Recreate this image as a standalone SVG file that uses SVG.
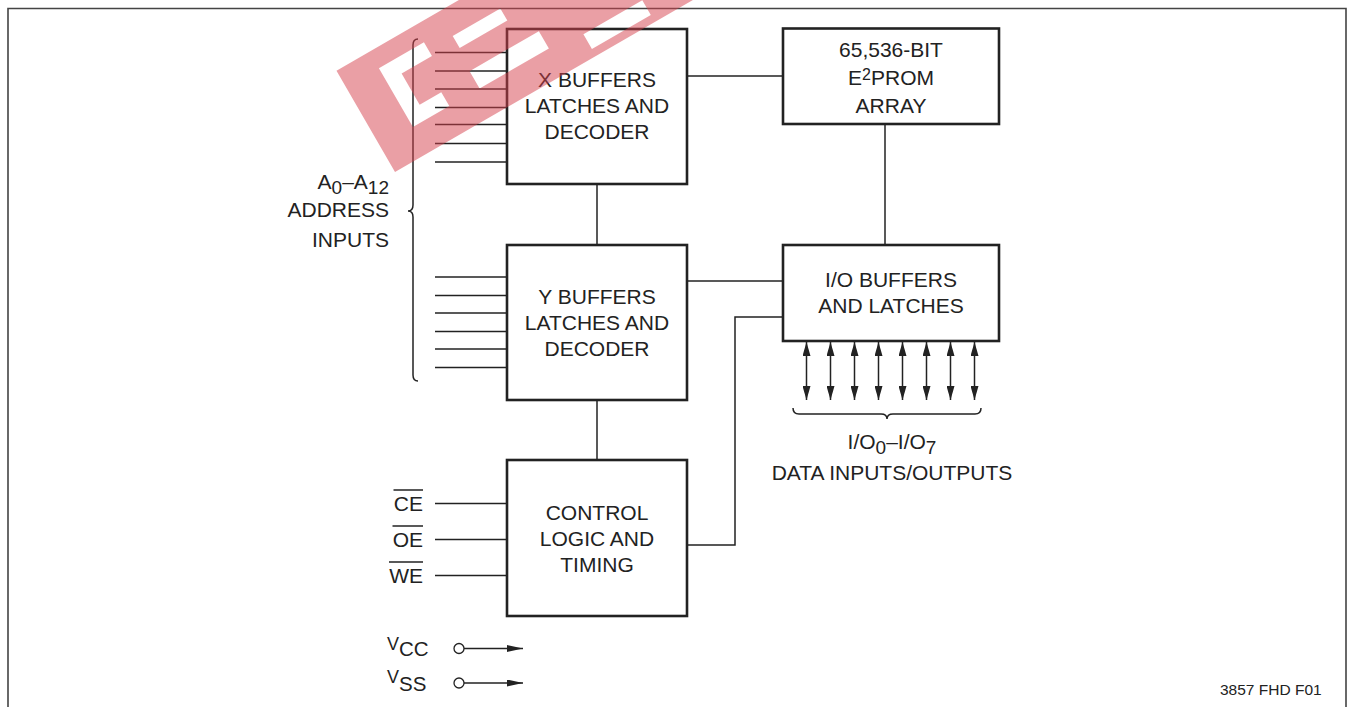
<svg xmlns="http://www.w3.org/2000/svg" width="1350" height="707" viewBox="0 0 1350 707">
<style>
  .box { fill: #fff; stroke: #222; stroke-width: 2.6; }
  .ln { fill: none; stroke: #222; stroke-width: 1.5; }
  .frame { fill: none; stroke: #444; stroke-width: 1.6; }
  .t { font-family: "Liberation Sans", Arial, sans-serif; font-size: 21px; fill: #222; }
  .c { text-anchor: middle; }
  .e { text-anchor: end; }
</style>
<defs>
  <marker id="ah" markerUnits="userSpaceOnUse" markerWidth="14" markerHeight="8" refX="14" refY="4" orient="auto-start-reverse">
    <path d="M0,0 L14,4 L0,8 z" fill="#222"/>
  </marker>
  <marker id="ah2" markerUnits="userSpaceOnUse" markerWidth="16" markerHeight="7" refX="16" refY="3.5" orient="auto">
    <path d="M0,0 L16,3.5 L0,7 z" fill="#222"/>
  </marker>
</defs>
<rect width="1350" height="707" fill="#fff"/>
<path class="frame" d="M8,720 L8,8.5 L1346,8.5 L1346,720"/>

<g id="connectors">
  <line class="ln" x1="687" y1="76" x2="783" y2="76"/>
  <line class="ln" x1="885" y1="124" x2="885" y2="245"/>
  <line class="ln" x1="597" y1="184" x2="597" y2="245"/>
  <line class="ln" x1="597" y1="400" x2="597" y2="460"/>
  <line class="ln" x1="687" y1="281" x2="783" y2="281"/>
  <path class="ln" d="M687,545 L735,545 L735,317 L783,317"/>
  <g id="x-address-lines">
    <line class="ln" x1="435" y1="52.5" x2="507" y2="52.5"/>
    <line class="ln" x1="435" y1="71" x2="507" y2="71"/>
    <line class="ln" x1="435" y1="89" x2="507" y2="89"/>
    <line class="ln" x1="435" y1="107.5" x2="507" y2="107.5"/>
    <line class="ln" x1="435" y1="124.5" x2="507" y2="124.5"/>
    <line class="ln" x1="435" y1="143.5" x2="507" y2="143.5"/>
    <line class="ln" x1="435" y1="162" x2="507" y2="162"/>
  </g>
  <g id="y-address-lines">
    <line class="ln" x1="435" y1="277" x2="507" y2="277"/>
    <line class="ln" x1="435" y1="295.5" x2="507" y2="295.5"/>
    <line class="ln" x1="435" y1="313" x2="507" y2="313"/>
    <line class="ln" x1="435" y1="331.5" x2="507" y2="331.5"/>
    <line class="ln" x1="435" y1="349" x2="507" y2="349"/>
    <line class="ln" x1="435" y1="367.5" x2="507" y2="367.5"/>
  </g>
  <g id="control-lines">
    <line class="ln" x1="435" y1="503.5" x2="507" y2="503.5"/>
    <line class="ln" x1="435" y1="539.5" x2="507" y2="539.5"/>
    <line class="ln" x1="435" y1="575.5" x2="507" y2="575.5"/>
  </g>
  <g id="data-arrows">
    <line class="ln" x1="806.5" y1="342" x2="806.5" y2="400" marker-start="url(#ah)" marker-end="url(#ah)"/>
    <line class="ln" x1="830.5" y1="342" x2="830.5" y2="400" marker-start="url(#ah)" marker-end="url(#ah)"/>
    <line class="ln" x1="854.5" y1="342" x2="854.5" y2="400" marker-start="url(#ah)" marker-end="url(#ah)"/>
    <line class="ln" x1="878.5" y1="342" x2="878.5" y2="400" marker-start="url(#ah)" marker-end="url(#ah)"/>
    <line class="ln" x1="902.5" y1="342" x2="902.5" y2="400" marker-start="url(#ah)" marker-end="url(#ah)"/>
    <line class="ln" x1="926.5" y1="342" x2="926.5" y2="400" marker-start="url(#ah)" marker-end="url(#ah)"/>
    <line class="ln" x1="950.5" y1="342" x2="950.5" y2="400" marker-start="url(#ah)" marker-end="url(#ah)"/>
    <line class="ln" x1="974.5" y1="342" x2="974.5" y2="400" marker-start="url(#ah)" marker-end="url(#ah)"/>
  </g>
  <path class="ln" d="M418,39 Q413,39 413,45 L413,205 Q413,211 408,211 Q413,211 413,217 L413,375 Q413,381 418,381"/>
  <path class="ln" d="M793,408 Q793,414 799,414 L881,414 Q887,414 887,419 Q887,414 893,414 L975,414 Q981,414 981,408"/>
  <g id="power">
    <circle cx="459" cy="648.5" r="5" fill="#fff" stroke="#222" stroke-width="1.3"/>
    <line class="ln" x1="464" y1="648.5" x2="523" y2="648.5" marker-end="url(#ah2)"/>
    <circle cx="459" cy="683" r="5" fill="#fff" stroke="#222" stroke-width="1.3"/>
    <line class="ln" x1="464" y1="683" x2="523" y2="683" marker-end="url(#ah2)"/>
  </g>
</g>

<g id="x-buffers">
  <rect class="box" x="507" y="29" width="180" height="155"/>
  <text class="t c" x="597" y="87">X BUFFERS</text>
  <text class="t c" x="597" y="113">LATCHES AND</text>
  <text class="t c" x="597" y="139">DECODER</text>
</g>
<g id="y-buffers">
  <rect class="box" x="507" y="245" width="180" height="155"/>
  <text class="t c" x="597" y="304">Y BUFFERS</text>
  <text class="t c" x="597" y="330">LATCHES AND</text>
  <text class="t c" x="597" y="356">DECODER</text>
</g>
<g id="control">
  <rect class="box" x="507" y="460" width="180" height="156"/>
  <text class="t c" x="597" y="520">CONTROL</text>
  <text class="t c" x="597" y="546">LOGIC AND</text>
  <text class="t c" x="597" y="572">TIMING</text>
</g>
<g id="eeprom-array">
  <rect class="box" x="783" y="28.5" width="216" height="95.5"/>
  <text class="t c" x="891" y="57">65,536-BIT</text>
  <text class="t c" x="891" y="84.5">E<tspan style="font-size:16px" dy="-5">2</tspan><tspan dy="5">PROM</tspan></text>
  <text class="t c" x="891" y="112.5">ARRAY</text>
</g>
<g id="io-buffers">
  <rect class="box" x="783" y="245" width="216" height="96"/>
  <text class="t c" x="891" y="287">I/O BUFFERS</text>
  <text class="t c" x="891" y="313">AND LATCHES</text>
</g>

<g id="labels">
  <text class="t e" x="389" y="188.5">A<tspan style="font-size:19px" dy="5">0</tspan><tspan dy="-5">–A</tspan><tspan style="font-size:19px" dy="5">12</tspan></text>
  <text class="t e" x="389" y="216.5">ADDRESS</text>
  <text class="t e" x="389" y="246.5">INPUTS</text>
  <text class="t c" x="892" y="449">I/O<tspan style="font-size:19px" dy="5">0</tspan><tspan dy="-5">–I/O</tspan><tspan style="font-size:19px" dy="5">7</tspan></text>
  <text class="t c" x="892" y="480">DATA INPUTS/OUTPUTS</text>
  <text class="t e" x="423" y="511">CE</text>
  <line class="ln" x1="393.5" y1="490" x2="423" y2="490"/>
  <text class="t e" x="423" y="547">OE</text>
  <line class="ln" x1="392.5" y1="526" x2="423" y2="526"/>
  <text class="t e" x="423" y="583">WE</text>
  <line class="ln" x1="389" y1="562" x2="423" y2="562"/>
  <text class="t" x="387" y="650" style="font-size:18px">V<tspan style="font-size:20.5px" dy="6">CC</tspan></text>
  <text class="t" x="387" y="683" style="font-size:18px">V<tspan style="font-size:20.5px" dy="8">SS</tspan></text>
  <text class="t" x="1220" y="695" style="font-size:15.5px">3857 FHD F01</text>
</g>

<g id="watermark" opacity="0.5" transform="translate(395,172) rotate(-30)">
  <path fill="#d6404c" fill-rule="evenodd" d="M0,0 L370,0 L370,-117 L0,-117 Z
    M38,-98 L90,-98 L90,-82 L55,-82 L55,-46 L80,-46 L80,-30 L38,-30 Z
    M118,-89 L173,-89 L173,-75 L118,-75 Z
    M115,-50 L195,-50 L195,-30 L115,-30 Z
    M232,-25 L300,-25 L300,-8 L232,-8 Z"/>
</g>
</svg>
